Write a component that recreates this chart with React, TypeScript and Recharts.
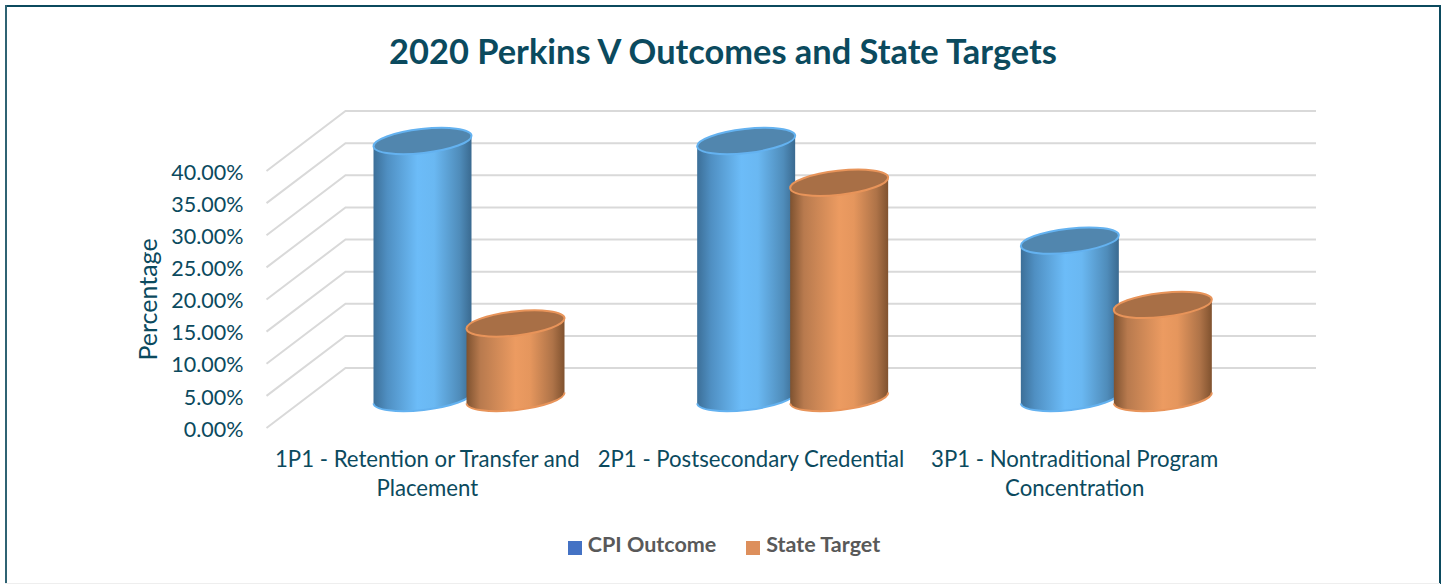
import { Bar, BarChart, CartesianGrid, Legend, XAxis, YAxis } from "recharts";

const categories = ["1P1", "2P1", "3P1"];
const categoryLines = [
	["1P1 - Retention or Transfer and", "Placement"],
	["2P1 - Postsecondary Credential"],
	["3P1 - Nontraditional Program", "Concentration"],
];
const cpiOutcome = [40, 40, 24.5];
const stateTarget = [11.6, 33.5, 14.5];
const yTicks = [0, 5, 10, 15, 20, 25, 30, 35, 40];

const TEAL = "#0b4a5e";
const font = "Lato, sans-serif";

const chartData = categories.map((name, i) => ({
	name,
	cpi: cpiOutcome[i],
	target: stateTarget[i],
}));

// how far the back wall sits behind the axis labels
const WALL_DX = 79;
const WALL_DY = -60;
const BAR_DX = 41;

const tones = {
	blue: { grad: "url(#blueBody)", top: "#5186ae", edge: "#64b2f0" },
	orange: { grad: "url(#orangeBody)", top: "#a86f46", edge: "#e8945a" },
};

function Cylinder({ x, y, width, height, tone }: any) {
	const t = tones[tone];
	const cx = x + width / 2 + BAR_DX;
	const top = y + WALL_DY / 2;
	const bottom = top + height;
	const half = width / 2;
	const skew = 5.5;
	const rx = Math.hypot(half, skew);
	const ry = 12;
	const angle = (-Math.atan2(skew, half) * 180) / Math.PI;
	const left = cx - half;
	const right = cx + half;
	const lowerArc = `M${left},${bottom + skew} A${rx},${ry} ${angle} 0 0 ${right},${bottom - skew}`;
	return (
		<g>
			<path
				d={`M${left},${top + skew} L${left},${bottom + skew} A${rx},${ry} ${angle} 0 0 ${right},${bottom - skew} L${right},${top - skew} Z`}
				fill={t.grad}
			/>
			<path d={lowerArc} fill="none" stroke={t.edge} strokeWidth={2} />
			<ellipse
				cx={cx}
				cy={top}
				rx={rx}
				ry={ry}
				transform={`rotate(${angle} ${cx} ${top})`}
				fill={t.top}
				stroke={t.edge}
				strokeWidth={2}
			/>
		</g>
	);
}

// each value line runs up the side wall, then across the back wall
function WallLine({ x1, y1 }: any) {
	const backY = y1 + WALL_DY;
	return (
		<path
			d={`M${x1},${y1} L${x1 + WALL_DX},${backY} L1316,${backY}`}
			fill="none"
			stroke="#d9d9d9"
			strokeWidth={2}
		/>
	);
}

function CategoryTick({ x, y, index }: any) {
	return (
		<text textAnchor="middle" fill={TEAL} fontSize={22.2} fontFamily={font}>
			{categoryLines[index].map((line, i) => (
				<tspan key={line} x={x - 1} y={y + 19 + i * 29}>
					{line}
				</tspan>
			))}
		</text>
	);
}

export default function App() {
	return (
		<div style={{ position: "absolute", left: 0, top: 0, width: 1444, height: 584, background: "#fff", overflow: "hidden" }}>
			<div style={{ position: "absolute", left: 5, top: 5, width: 1435, height: 2, background: TEAL }} />
			<div style={{ position: "absolute", left: 5, top: 5, width: 2, height: 579, background: "#2f6373" }} />
			<div style={{ position: "absolute", left: 1439, top: 5, width: 2, height: 579, background: TEAL }} />
			<div style={{ position: "absolute", left: 5, top: 583, width: 1435, height: 1, background: "#eeeeee" }} />
			<div
				style={{
					position: "absolute",
					left: 0,
					width: 1446,
					top: 30,
					textAlign: "center",
					fontFamily: font,
					fontWeight: 700,
					fontSize: 34.4,
					color: TEAL,
				}}
			>
				2020 Perkins V Outcomes and State Targets
			</div>
			<BarChart
				width={1444}
				height={584}
				data={chartData}
				barSize={98}
				barGap={-5}
				margin={{ top: 171, right: 206.5, bottom: 96, left: 100 }}
				style={{ position: "absolute", left: 0, top: 0 }}
			>
				<defs>
					<linearGradient id="blueBody" x1="0" y1="0" x2="1" y2="0">
						<stop offset="0%" stopColor="#3c6f98" />
						<stop offset="14%" stopColor="#4f8fc2" />
						<stop offset="45%" stopColor="#6cbcf8" />
						<stop offset="62%" stopColor="#6ab8f2" />
						<stop offset="88%" stopColor="#4f8cba" />
						<stop offset="100%" stopColor="#3a6a90" />
					</linearGradient>
					<linearGradient id="orangeBody" x1="0" y1="0" x2="1" y2="0">
						<stop offset="0%" stopColor="#7e5230" />
						<stop offset="14%" stopColor="#b87a4e" />
						<stop offset="50%" stopColor="#ec9b61" />
						<stop offset="65%" stopColor="#e5965d" />
						<stop offset="88%" stopColor="#ae7348" />
						<stop offset="100%" stopColor="#80522f" />
					</linearGradient>
				</defs>
				<CartesianGrid vertical={false} horizontal={(props) => <WallLine key={props.key} {...props} />} />
				<XAxis
					dataKey="name"
					height={60}
					interval={0}
					axisLine={false}
					tickLine={false}
					tickSize={0}
					tickMargin={20}
					tick={CategoryTick}
				/>
				<YAxis
					width={166.5}
					domain={[0, 40]}
					ticks={yTicks}
					axisLine={false}
					tickLine={false}
					tickSize={0}
					tickMargin={23}
					tick={{ fill: TEAL, fontSize: 21.5, fontFamily: font, dy: 1 }}
					tickFormatter={(v) => v.toFixed(2) + "%"}
					label={{
						value: "Percentage",
						angle: -90,
						position: "insideLeft",
						offset: 48,
						style: { fill: TEAL, fontSize: 25, fontFamily: font, textAnchor: "middle" },
					}}
				/>
				<Legend
					verticalAlign="middle"
					align="center"
					iconType="square"
					iconSize={14}
					wrapperStyle={{ left: 539, top: 531, width: 400 }}
					formatter={(value) => (
						<span style={{ color: "#595959", fontFamily: font, fontWeight: 700, fontSize: 21.5, marginLeft: 2, marginRight: 20 }}>{value}</span>
					)}
				/>
				<Bar
					dataKey="cpi"
					name="CPI Outcome"
					fill="#4472c4"
					isAnimationActive={false}
					shape={(props) => <Cylinder {...props} tone="blue" />}
				/>
				<Bar
					dataKey="target"
					name="State Target"
					fill="#dd8f5c"
					isAnimationActive={false}
					shape={(props) => <Cylinder {...props} tone="orange" />}
				/>
			</BarChart>
		</div>
	);
}
